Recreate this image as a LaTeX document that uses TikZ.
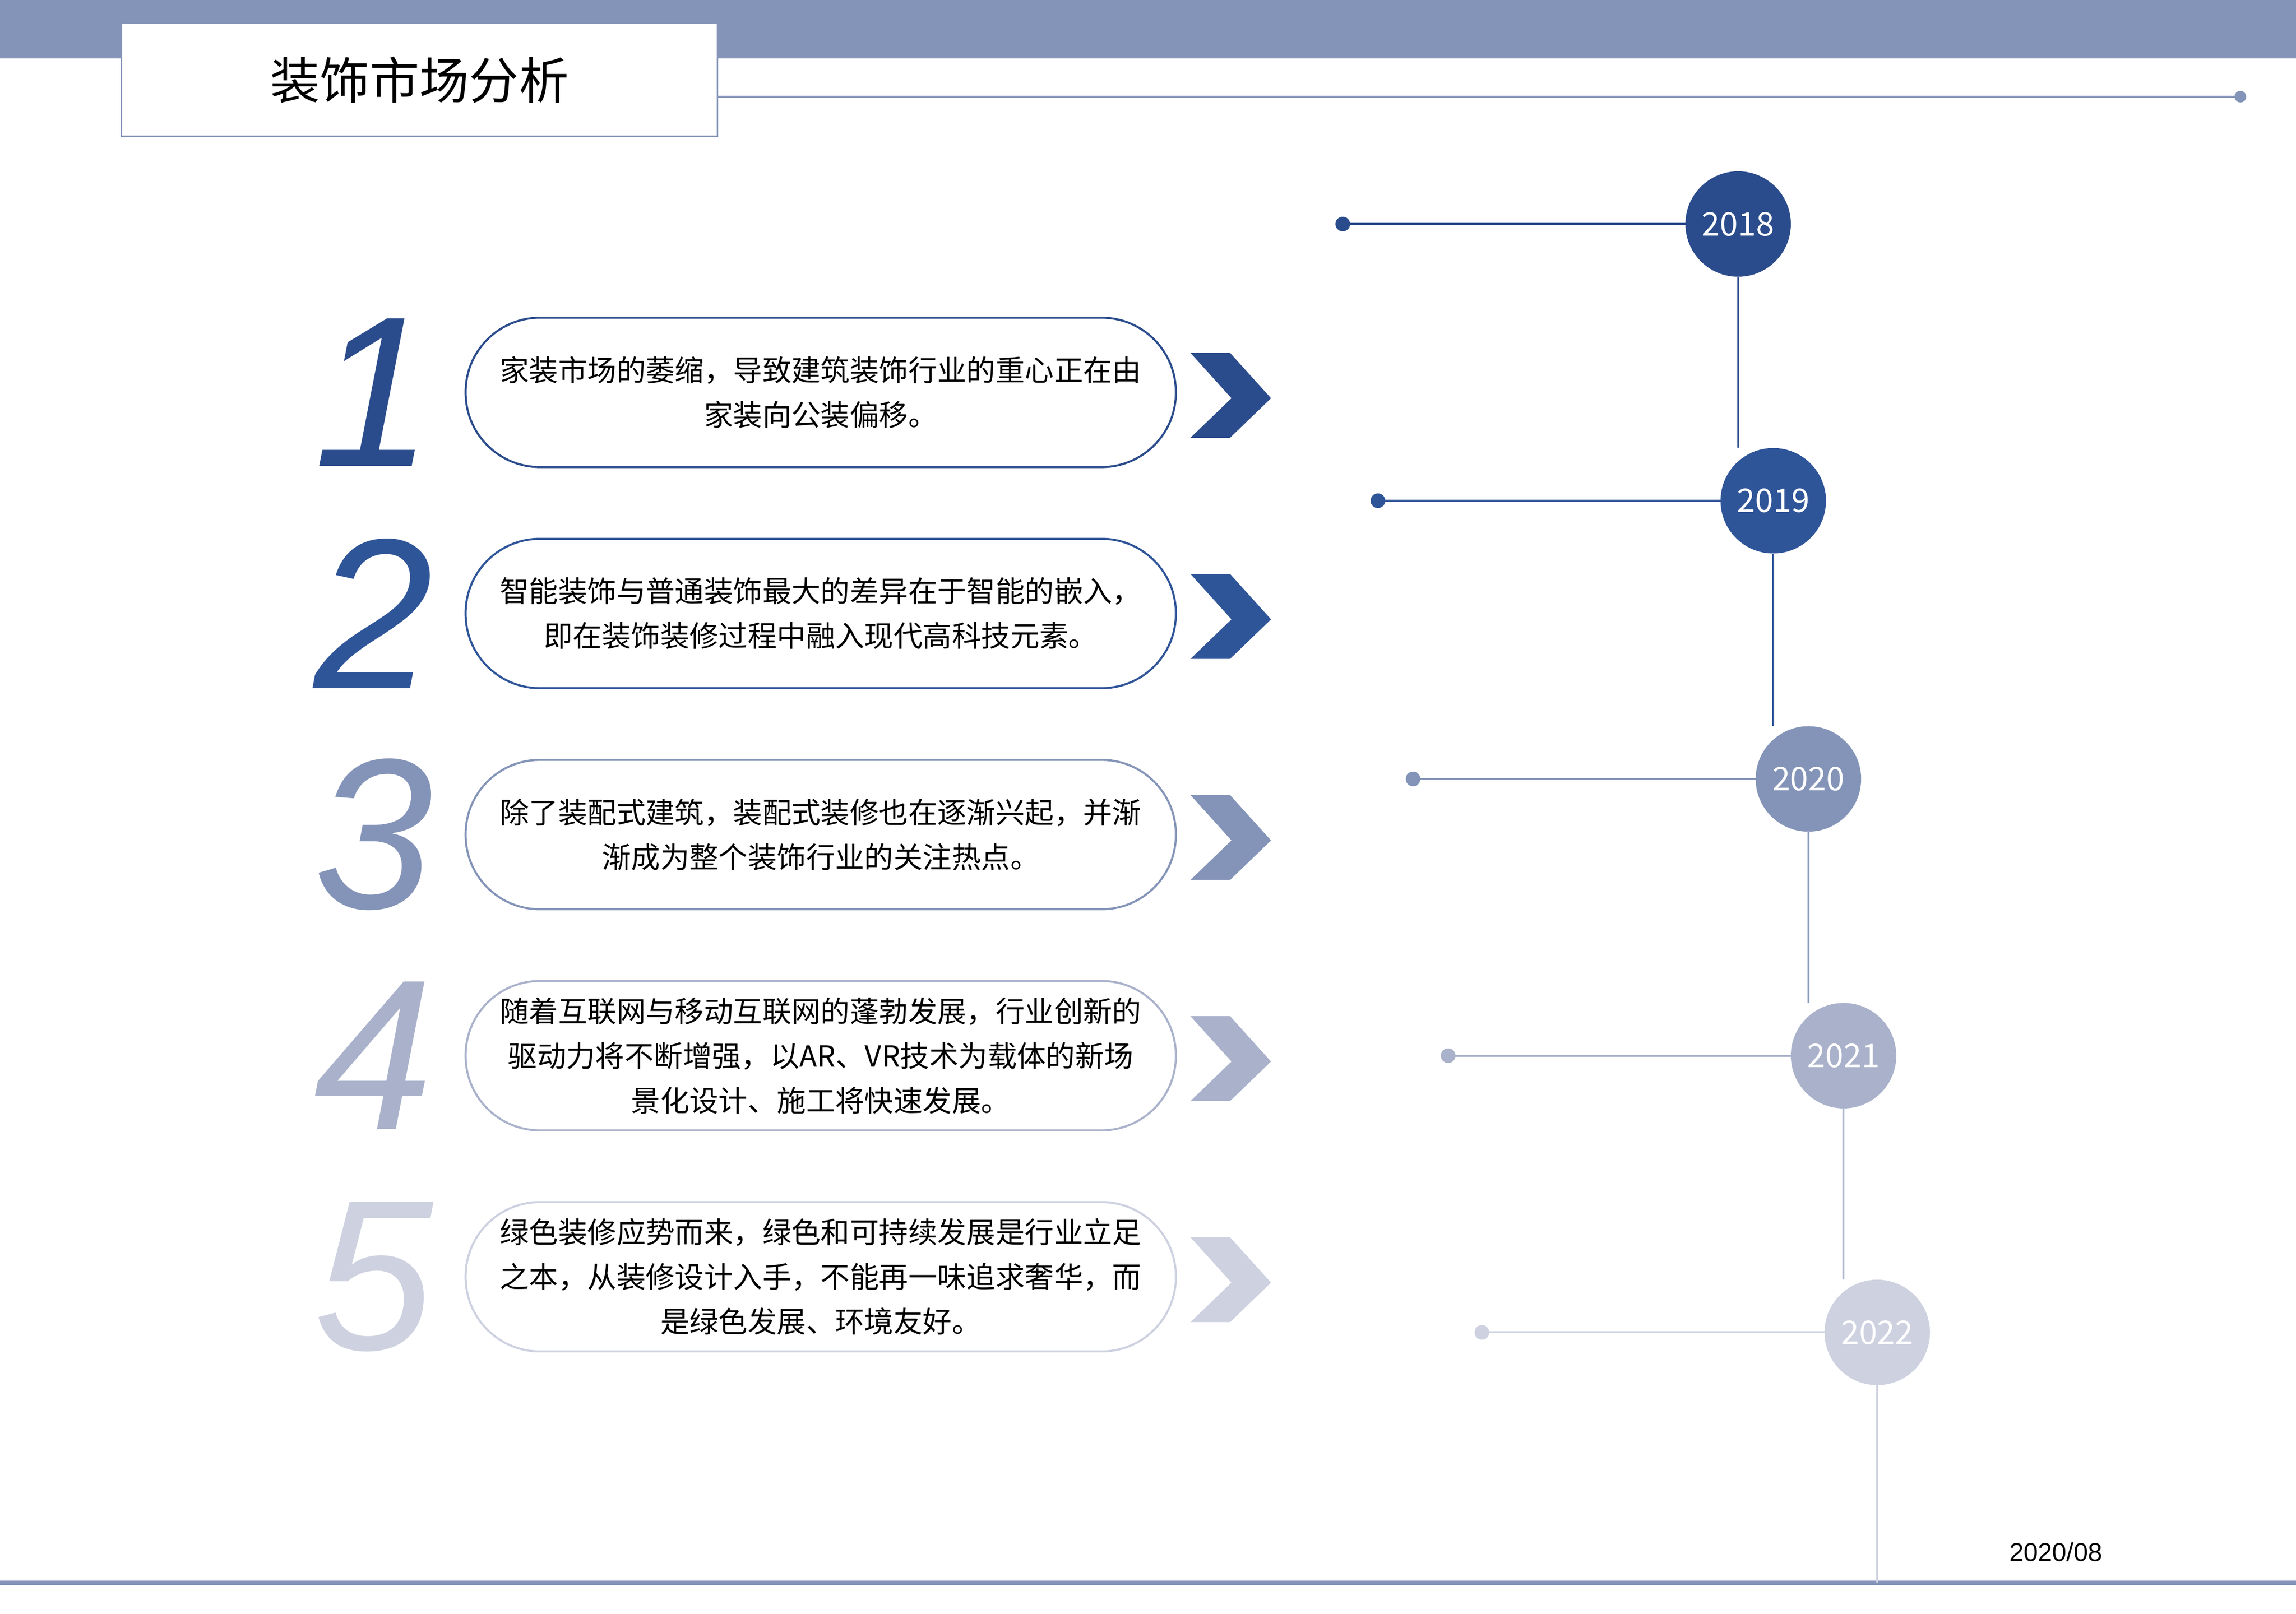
\documentclass[tikz,border=0pt]{standalone}
\usepackage{fontspec}
\setmainfont{Noto Sans CJK SC}
\newfontfamily\numfont{Liberation Sans}
\definecolor{bandblue}{HTML}{8494B8}
\definecolor{rowA}{HTML}{2B4C8C}
\definecolor{rowB}{HTML}{2F5599}
\definecolor{rowC}{HTML}{8494B8}
\definecolor{rowD}{HTML}{AAB2CB}
\definecolor{rowE}{HTML}{CDD1E0}
\tikzset{
  pillbox/.style={draw=#1, line width=1.2pt, rounded corners=1.52cm,
    minimum width=14.55cm, minimum height=3.06cm, align=center,
    font=\fontsize{17}{26}\selectfont, inner sep=0pt},
  yearball/.style={circle, fill=#1, minimum size=2.16cm, inner sep=0pt,
    text=white, font=\fontsize{19}{19}\selectfont},
  bignum/.style={text=#1, font=\numfont\itshape\fontsize{125}{125}\selectfont},
}
\begin{document}
\begin{tikzpicture}[x=0.03cm, y=-0.03cm]
    \useasboundingbox (0,0) rectangle (1568,1102);
    % Header
    \fill[bandblue] (0,0) rectangle (1568,40);
    \node[draw=bandblue, fill=white, line width=0.8pt, minimum width=12.21cm,
      minimum height=2.31cm, font=\fontsize{29}{29}\selectfont] (title)
      at (286.5,54.5) {装饰市场分析};
    \coordinate (headend) at (1530,66);
    \draw[bandblue, line width=1pt] (title.east |- headend) -- (headend);
    \fill[bandblue] (headend) circle [radius=4];

    % Footer
    \draw[bandblue, line width=2.5pt] (0,1081) -- (1568,1081);
    \node[font=\numfont\fontsize{15}{15}\selectfont] (date) at (1404,1060) {2020/08};

    % Rows
    \foreach \i/\cy/\col/\txt in {
        1/268/rowA/{家装市场的萎缩，导致建筑装饰行业的重心正在由\\家装向公装偏移。},
        2/419/rowB/{智能装饰与普通装饰最大的差异在于智能的嵌入，\\即在装饰装修过程中融入现代高科技元素。},
        3/570/rowC/{除了装配式建筑，装配式装修也在逐渐兴起，并渐\\渐成为整个装饰行业的关注热点。},
        4/721/rowD/{随着互联网与移动互联网的蓬勃发展，行业创新的\\驱动力将不断增强，以AR、VR技术为载体的新场\\景化设计、施工将快速发展。},
        5/872/rowE/{绿色装修应势而来，绿色和可持续发展是行业立足\\之本，从装修设计入手，不能再一味追求奢华，而\\是绿色发展、环境友好。}} {
        \node[bignum=\col] (num\i) at (255,\cy) {\i};
        \node[pillbox=\col] (box\i) at (560.5,\cy) {\txt};
        \fill[\col] (813,\cy-27) -- (840,\cy-27) -- (868,\cy+4) -- (840,\cy+31)
          -- (813,\cy+31) -- (841,\cy+4) -- cycle;
    }

    % Timeline
    \foreach \i/\yr/\col/\cx/\cy in {1/2018/rowA/1187/153, 2/2019/rowB/1211/342,
        3/2020/rowC/1235/532, 4/2021/rowD/1259/721, 5/2022/rowE/1282/910} {
        \coordinate (dot\i) at (\cx-270,\cy);
        \draw[\col, line width=1.2pt] (dot\i) -- (\cx,\cy);
        \fill[\col] (dot\i) circle [radius=5];
        \node[yearball=\col] (yr\i) at (\cx,\cy) {\yr};
    }
    \begin{scope}[on background layer/.style={}]
    \draw[rowA, line width=1.2pt] (yr1.south) -- (yr1.south |- yr2.north);
    \draw[rowB, line width=1.2pt] (yr2.south) -- (yr2.south |- yr3.north);
    \draw[rowC, line width=1.2pt] (yr3.south) -- (yr3.south |- yr4.north);
    \draw[rowD, line width=1.2pt] (yr4.south) -- (yr4.south |- yr5.north);
    \coordinate (tailend) at (1282,1081);
    \draw[rowE, line width=1.2pt] (yr5.south) -- (tailend);
    \end{scope}
\end{tikzpicture}
\end{document}
